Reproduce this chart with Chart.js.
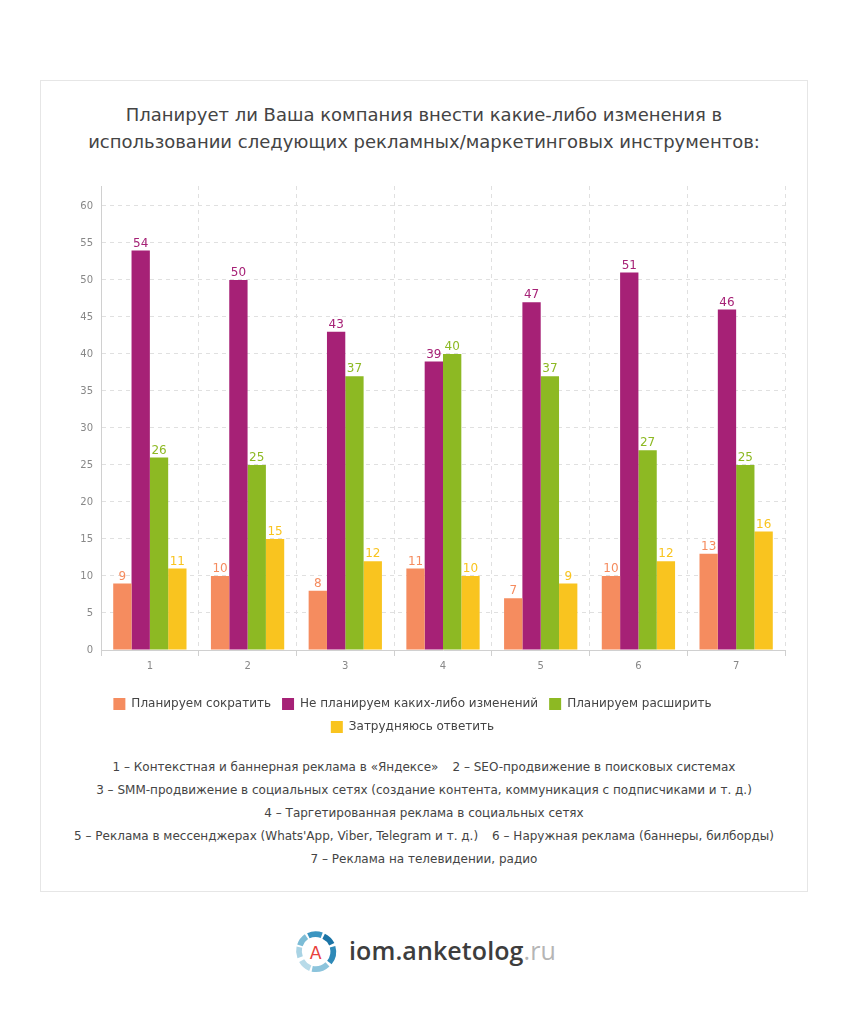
<!DOCTYPE html>
<html lang="ru">
<head>
<meta charset="utf-8">
<title>Планирует ли Ваша компания внести какие-либо изменения</title>
<script src="https://cdn.jsdelivr.net/npm/chart.js@4.4.1/dist/chart.umd.min.js"></script>
<style>
  html, body { margin: 0; padding: 0; background: #fff; }
  body { width: 848px; height: 1014px; position: relative; font-family: "DejaVu Sans", sans-serif; color: #444; }
  .card { position: absolute; left: 40px; top: 80px; width: 766px; height: 810px; border: 1px solid #e6e6e6; }
  .title { position: absolute; left: 40px; top: 101px; width: 768px; text-align: center; font-size: 18px; line-height: 27px; color: #444; }
  #chartWrap { position: absolute; left: 40px; top: 172px; width: 767px; height: 571px; }
  .notes { position: absolute; left: 40px; top: 756px; width: 768px; text-align: center; font-size: 12px; line-height: 23px; color: #444; }
  .notes .gap { display: inline-block; width: 14px; }
  .logo { position: absolute; left: 293px; top: 930px; height: 44px; }
  .logo-text { position: absolute; left: 349px; top: 933px; font-family: "Open Sans", "DejaVu Sans", sans-serif; font-size: 25px; font-weight: 600; color: #3d3d3d; letter-spacing: 0.1px; }
  .logo-text span { color: #b5b5b5; font-weight: 400; }
</style>
</head>
<body>
<div class="card"></div>
<div class="title">Планирует ли Ваша компания внести какие-либо изменения в<br>использовании следующих рекламных/маркетинговых инструментов:</div>
<div id="chartWrap"><canvas id="chart" width="767" height="571"></canvas></div>
<div class="notes">
  1 – Контекстная и баннерная реклама в «Яндексе»<span class="gap"></span>2 – SEO-продвижение в поисковых системах<br>
  3 – SMM-продвижение в социальных сетях (создание контента, коммуникация с подписчиками и т. д.)<br>
  4 – Таргетированная реклама в социальных сетях<br>
  5 – Реклама в мессенджерах (Whats'App, Viber, Telegram и т. д.)<span class="gap"></span>6 – Наружная реклама (баннеры, билборды)<br>
  7 – Реклама на телевидении, радио
</div>
<svg class="logo" width="46" height="46" viewBox="0 0 46 46">
  <g fill="none" stroke-width="6">
    <path d="M6.4 28.5 A18 18 0 0 1 5.6 18" stroke="#a9d3e4"/>
    <path d="M6.2 16 A18 18 0 0 1 13 7" stroke="#7cbcd6"/>
    <path d="M15 6 A18 18 0 0 1 29 5.5" stroke="#3a95c1"/>
    <path d="M31 6.5 A18 18 0 0 1 39.5 15" stroke="#1b74a6"/>
    <path d="M40.3 17.5 A18 18 0 0 1 37 34" stroke="#2f8ab8"/>
    <path d="M35 36 A18 18 0 0 1 19 40.6" stroke="#8cc4dc"/>
    <path d="M17 40 A18 18 0 0 1 8 32" stroke="#b8dbe9"/>
  </g>
  <text x="22.5" y="30" text-anchor="middle" font-family="DejaVu Sans, sans-serif" font-size="18" fill="#e8413c">A</text>
</svg>
<div class="logo-text">iom.anketolog<span>.ru</span></div>
<script>
const categories = ["1", "2", "3", "4", "5", "6", "7"];
const seriesNames = ["Планируем сократить", "Не планируем каких-либо изменений", "Планируем расширить", "Затрудняюсь ответить"];
const reduceValues = [9, 10, 8, 11, 7, 10, 13];
const keepValues = [54, 50, 43, 39, 47, 51, 46];
const expandValues = [26, 25, 37, 40, 37, 27, 25];
const unsureValues = [11, 15, 12, 10, 9, 12, 16];
const seriesColors = ["#f58c5f", "#a62176", "#8db923", "#f9c41f"];

const allValues = [reduceValues, keepValues, expandValues, unsureValues];

// подписи значений над столбцами
const valueLabels = {
  id: "valueLabels",
  afterDatasetsDraw(chart) {
    const ctx = chart.ctx;
    ctx.save();
    ctx.font = "12px 'DejaVu Sans', sans-serif";
    ctx.textAlign = "center";
    ctx.textBaseline = "bottom";
    chart.data.datasets.forEach((ds, i) => {
      const meta = chart.getDatasetMeta(i);
      ctx.fillStyle = ds.backgroundColor;
      meta.data.forEach((bar, j) => {
        ctx.fillText(String(ds.data[j]), bar.x, bar.y - 1);
      });
    });
    ctx.restore();
  }
};

new Chart(document.getElementById("chart"), {
  type: "bar",
  data: {
    labels: categories,
    datasets: seriesNames.map((name, i) => ({
      label: name,
      data: allValues[i],
      backgroundColor: seriesColors[i],
      borderWidth: 0,
      categoryPercentage: 0.75,
      barPercentage: 1.0
    }))
  },
  options: {
    responsive: false,
    animation: false,
    devicePixelRatio: 1,
    layout: { padding: { top: 5, right: 22, left: 0, bottom: 0 } },
    plugins: {
      tooltip: { enabled: false },
      legend: {
        position: "bottom",
        labels: {
          boxWidth: 12,
          boxHeight: 12,
          padding: 11,
          color: "#444",
          font: { family: "'DejaVu Sans', sans-serif", size: 12 }
        }
      }
    },
    scales: {
      x: {
        grid: {
          color: "#e0e0e0",
          offset: true,
          tickLength: 6,
          tickColor: "#d0d0d0",
          tickBorderDash: []
        },
        border: { color: "#d0d0d0", dash: [4, 4] },
        ticks: { color: "#888", padding: 4, font: { family: "'DejaVu Sans', sans-serif", size: 10 } },
        afterFit(scale) { scale.height = 37; }
      },
      y: {
        min: 0,
        max: 62.7,
        grid: { color: "#e0e0e0", drawTicks: false },
        border: { color: "#d0d0d0", dash: [4, 4] },
        ticks: {
          stepSize: 5,
          color: "#888",
          padding: 8,
          font: { family: "'DejaVu Sans', sans-serif", size: 10 }
        },
        afterBuildTicks(scale) {
          scale.ticks = scale.ticks.filter(t => t.value % 5 === 0);
        },
        afterFit(scale) { scale.width = 61; }
      }
    }
  },
  plugins: [valueLabels]
});
</script>
</body>
</html>
